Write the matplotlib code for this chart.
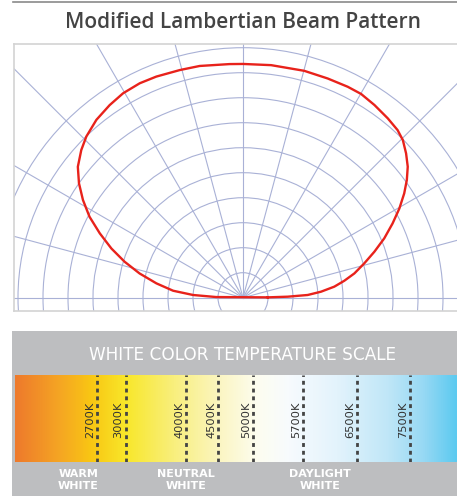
import numpy as np
import matplotlib
matplotlib.use("Agg")
import matplotlib.pyplot as plt
from matplotlib.colors import LinearSegmentedColormap
from matplotlib.patches import Circle, Rectangle

W, H = 457, 496

# beam pattern, angle in degrees from the right horizontal, radius in ring units
beam_angle = [0.8, 1.3, 2.4, 4.4, 6.9, 9.5, 12.3, 15.8, 19.3, 22.8, 26.4, 29.7,
              32.9, 35.7, 38.5, 41.5, 44.6, 47.3, 51.1, 55.7, 59.9, 63.6, 68.9,
              74.9, 83.1, 90.0, 93.3, 100.6, 105.5, 111.4, 115.7, 120.4, 124.7,
              129.5, 134.2, 137.6, 141.6, 145.1, 148.6, 152.2, 155.8, 159.5,
              163.1, 166.8, 170.6, 174.3, 176.9, 178.6]
beam_r = [0.99, 1.79, 2.59, 3.13, 3.68, 4.11, 4.56, 5.04, 5.57, 6.13, 6.68, 7.20,
          7.68, 8.07, 8.42, 8.71, 8.98, 9.12, 9.22, 9.33, 9.42, 9.42, 9.40,
          9.40, 9.37, 9.35, 9.36, 9.43, 9.45, 9.50, 9.52, 9.48, 9.37,
          9.22, 8.99, 8.76, 8.43, 8.00, 7.50, 6.94, 6.28, 5.62,
          4.95, 4.25, 3.51, 2.81, 2.00, 1.07]

ring_r = [1, 2, 3, 4, 5, 6, 7, 8, 9, 10]
spoke_angle = [0, 15, 30, 45, 60, 75, 90, 105, 120, 135, 150, 165, 180]

# colour temperature scale
scale_stop = [0.0, 0.10, 0.17, 0.25, 0.36, 0.47, 0.55, 0.62, 0.73, 0.85, 0.93, 1.0]
scale_color = ["#EE7A2C", "#F5A623", "#F9C613", "#F8E72A", "#F9EF7E", "#FBF6C6",
               "#FDFDF0", "#F7FBFE", "#E3F3FC", "#BEE6F7", "#95D8F4", "#5CCAF0"]
temp_labels = ["2700K", "3000K", "4000K", "4500K", "5000K", "5700K", "6500K", "7500K"]
temp_pos = [0.186, 0.250, 0.387, 0.460, 0.539, 0.652, 0.774, 0.894]
group_labels = ["WARM\nWHITE", "NEUTRAL\nWHITE", "DAYLIGHT\nWHITE"]
group_pos = [0.143, 0.387, 0.690]

grid_c = "#A9B1D6"

fig = plt.figure(figsize=(W / 100, H / 100), dpi=100)

# background layer in pixel units
bg = fig.add_axes([0, 0, 1, 1])
bg.set_xlim(0, W)
bg.set_ylim(H, 0)
bg.axis("off")
bg.plot([13, W], [2, 2], color="#8A8A8A", lw=1.2)
bg.text(243, 22, "Modified Lambertian Beam Pattern", ha="center", va="center",
        fontsize=15, color="#444444", family=["Open Sans", "DejaVu Sans"],
        fontweight="semibold")
bg.add_patch(Rectangle((12, 331), W - 12, H - 331, color="#BDBEC0", lw=0))
bg.text(243, 355, "WHITE COLOR TEMPERATURE SCALE", ha="center", va="center",
        fontsize=12.2, color="white")
for lab, p in zip(group_labels, group_pos):
    bg.text(15 + p * 442, 480, lab, ha="center", va="center", fontsize=8,
            fontweight="bold", color="white", linespacing=1.15)

# beam pattern
ax = fig.add_axes([14 / W, (H - 311) / H, (W - 14) / W, (311 - 44) / H])
ax.set_xlim(-229 / 25, 214 / 25)
ax.set_ylim(-13.3 / 25, 253.7 / 25)
ax.set_xticks([])
ax.set_yticks([])
for s in ["left", "top", "bottom"]:
    ax.spines[s].set_color("#D3D3D3")
    ax.spines[s].set_linewidth(1.2)
ax.spines["right"].set_visible(False)

for r in ring_r:
    ax.add_patch(Circle((0, 0), r, fill=False, ec=grid_c, lw=0.8))
for a in spoke_angle:
    t = np.radians(a)
    ax.plot([0, 20 * np.cos(t)], [0, 20 * np.sin(t)], color=grid_c, lw=0.8)

th = np.radians(beam_angle)
bx = np.array(beam_r) * np.cos(th)
by = np.array(beam_r) * np.sin(th)
ax.plot(np.append(bx, bx[0]), np.append(by, by[0]), color="#E8221B", lw=1.7,
        solid_joinstyle="round")

# gradient bar
bar = fig.add_axes([15 / W, (H - 462) / H, 442 / W, 87 / H])
cmap = LinearSegmentedColormap.from_list("ct", list(zip(scale_stop, scale_color)))
bar.imshow(np.linspace(0, 1, 500)[None, :], cmap=cmap, aspect="auto",
           extent=(0, 1, 0, 1))
bar.set_xlim(0, 1)
bar.set_ylim(0, 1)
bar.axis("off")
for lab, p in zip(temp_labels, temp_pos):
    bar.plot([p, p], [0, 1], color="#444444", lw=2.0, ls=(0, (1.4, 1.4)))
    bar.text(p - 2 / 442, 0.48, lab, rotation=90, ha="right", va="center",
             fontsize=8.2, color="#333333")

fig.savefig("out.png", dpi=100)
